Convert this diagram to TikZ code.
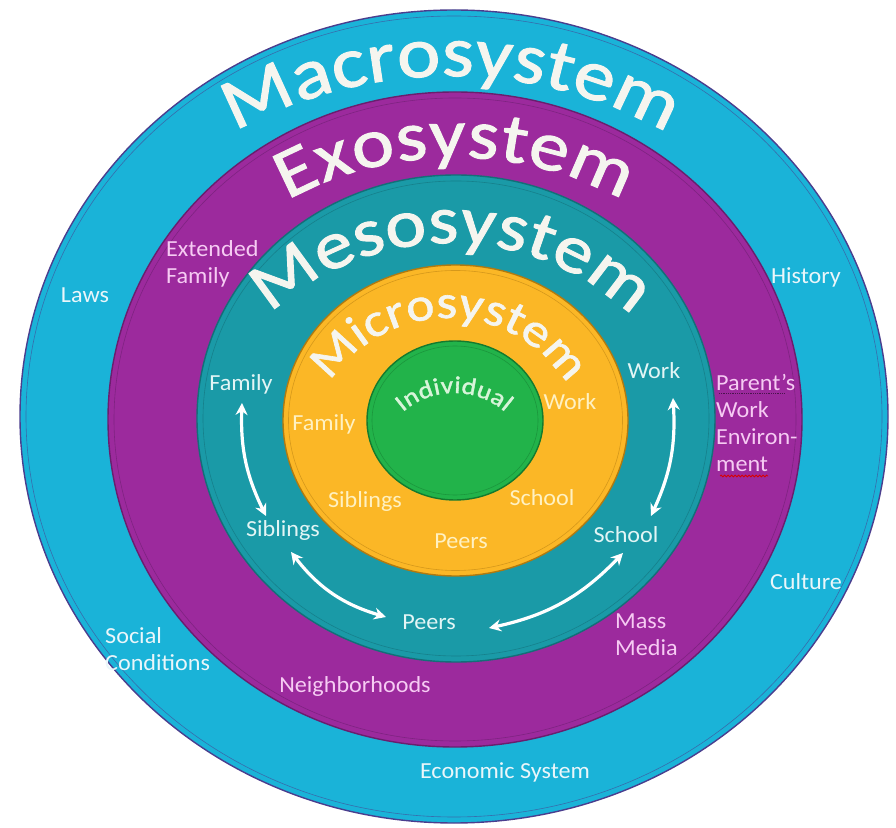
\documentclass[tikz,border=0pt]{standalone}
\usepackage{fontspec}
\setmainfont{Carlito}
\newfontfamily\titlefont[FakeStretch=1.14,FakeBold=1.4]{Carlito}
\newfontfamily\labelfont[FakeStretch=1.05]{Carlito}
\usetikzlibrary{decorations.text,decorations.pathmorphing,arrows.meta}
\definecolor{macroC}{HTML}{1AB3D8}
\definecolor{macroD}{HTML}{4A3E8E}
\definecolor{exoC}{HTML}{9C2A9D}
\definecolor{exoD}{HTML}{6A1E6E}
\definecolor{mesoC}{HTML}{1A9AA7}
\definecolor{mesoD}{HTML}{136F78}
\definecolor{microC}{HTML}{FBB726}
\definecolor{microD}{HTML}{B07A10}
\definecolor{indC}{HTML}{22B34A}
\definecolor{indD}{HTML}{147A2E}
\definecolor{titleC}{HTML}{F5F5EF}
\definecolor{macroT}{HTML}{EAF6FA}
\definecolor{exoT}{HTML}{F6CBF3}
\definecolor{mesoT}{HTML}{E2F5F5}
\definecolor{microT}{HTML}{FFF1C2}
\definecolor{indT}{HTML}{D8F5DA}
\begin{document}
\begin{tikzpicture}[x=1pt,y=1pt,
  ring/.style={line width=1.4pt},
  bevel/.style={line width=0.6pt},
  lbl/.style={font=\labelfont\fontsize{23}{27}\selectfont, inner sep=0pt, align=left},
  arr/.style={draw=white, line width=3.2pt,
    {Stealth[length=12pt,width=12pt]}-{Stealth[length=12pt,width=12pt]}}
]
\useasboundingbox (0,0) rectangle (896,827);
\fill[white] (0,0) rectangle (896,827);

% rings
\filldraw[fill=macroC, draw=macroD, ring] (454,410.5) ellipse[x radius=434pt, y radius=406.5pt];
\draw[macroD!60!macroC, bevel] (454,410.5) ellipse[x radius=428pt, y radius=400.5pt];
\filldraw[fill=exoC, draw=exoD, ring] (455,407.5) ellipse[x radius=347pt, y radius=327.5pt];
\draw[exoD!60!exoC, bevel] (455,407.5) ellipse[x radius=341pt, y radius=321.5pt];
\filldraw[fill=mesoC, draw=mesoD, ring] (456,408.5) ellipse[x radius=259pt, y radius=243.5pt];
\draw[mesoD!60!mesoC, bevel] (456,408.5) ellipse[x radius=253pt, y radius=237.5pt];
\filldraw[fill=microC, draw=microD, ring] (455.5,406.5) ellipse[x radius=172.5pt, y radius=155.5pt];
\draw[microD!50!microC, bevel] (455.5,406.5) ellipse[x radius=167pt, y radius=150pt];
\filldraw[fill=indC, draw=indD, ring] (455,406.5) ellipse[x radius=88pt, y radius=79.5pt];
\draw[indD!50!indC, bevel] (455,406.5) ellipse[x radius=83pt, y radius=74.5pt];

% curved titles
\path[decorate, decoration={text along path, text align=fit to path,
  text={|\titlefont\fontsize{72}{76}\selectfont\color{titleC}|Macrosystem}}]
  ([shift={(119.2:440.7pt)}]450,310.3) arc[start angle=119.2, end angle=60.8, radius=440.7pt];
\path[decorate, decoration={text along path, text align=fit to path,
  text={|\titlefont\fontsize{70}{74}\selectfont\color{titleC}|Exosystem}}]
  ([shift={(118.6:350pt)}]455,319.6) arc[start angle=118.6, end angle=61.4, radius=350pt];
\path[decorate, decoration={text along path, text align=fit to path,
  text={|\titlefont\fontsize{68}{72}\selectfont\color{titleC}|Mesosystem}}]
  ([shift={(133.3:261.3pt)}]450,322.7) arc[start angle=133.3, end angle=46.7, radius=261.3pt];
\path[decorate, decoration={text along path, text align=fit to path,
  text={|\titlefont\fontsize{47}{50}\selectfont\color{titleC}|Microsystem}}]
  ([shift={(147:140pt)}]448,369) arc[start angle=147, end angle=33, radius=140pt];
\path[decorate, decoration={text along path, text align=fit to path,
  text={|\titlefont\fontsize{24}{26}\selectfont\color{indT}|Individual}}]
  ([shift={(131:78pt)}]454,356) arc[start angle=131, end angle=49, radius=78pt];

% macrosystem labels
\node[lbl, text=macroT] (laws) at (85,532) {Laws};
\node[lbl, text=macroT] (history) at (806,550) {History};
\node[lbl, text=macroT] (culture) at (806,245) {Culture};
\node[lbl, text=macroT, anchor=west] (social) at (105,178) {Social\\Conditions};
\node[lbl, text=macroT] (econ) at (505,55) {Economic System};

% exosystem labels
\node[lbl, text=exoT, anchor=west] (extfam) at (166,563.5) {Extended\\Family};
\node[lbl, text=exoT, anchor=west] (parent) at (716,404) {Parent’s\\Work\\Environ-\\ment};
\node[lbl, text=exoT, anchor=west] (mass) at (615,192.5) {Mass\\Media};
\node[lbl, text=exoT] (neigh) at (355,141) {Neighborhoods};
\draw[densely dotted, line width=0.8pt, exoD!70!black] (719,434) -- (785,434);
\draw[red!85!black, line width=0.8pt, decorate,
  decoration={snake, amplitude=0.9pt, segment length=3.5pt}] (720,351) -- (768,351);

% mesosystem labels
\node[lbl, text=mesoT] (mfam) at (241,443) {Family};
\node[lbl, text=mesoT] (mwork) at (654,456) {Work};
\node[lbl, text=mesoT] (msib) at (283,297) {Siblings};
\node[lbl, text=mesoT] (mschool) at (626,292) {School};
\node[lbl, text=mesoT] (mpeers) at (429,205) {Peers};

% microsystem labels
\node[lbl, text=microT] (yfam) at (324,403) {Family};
\node[lbl, text=microT] (ywork) at (570,425) {Work};
\node[lbl, text=microT] (ysib) at (365,326) {Siblings};
\node[lbl, text=microT] (yschool) at (542,329) {School};
\node[lbl, text=microT] (ypeers) at (461,286) {Peers};

% arrows
\coordinate (famTop) at (242,424);
\coordinate (sibBot) at (266,311);
\coordinate (workTop) at (673,429);
\coordinate (schoolBot) at (651,311);
\coordinate (sibLow) at (291,275);
\coordinate (peersL) at (386,210);
\coordinate (peersR) at (489,199);
\coordinate (schoolLow) at (623,274);
\draw[arr] (famTop) to[bend right=14] (sibBot);
\draw[arr] (workTop) to[bend left=14] (schoolBot);
\draw[arr] (sibLow) to[bend right=18] (peersL);
\draw[arr] (peersR) to[bend right=17] (schoolLow);
\end{tikzpicture}
\end{document}
